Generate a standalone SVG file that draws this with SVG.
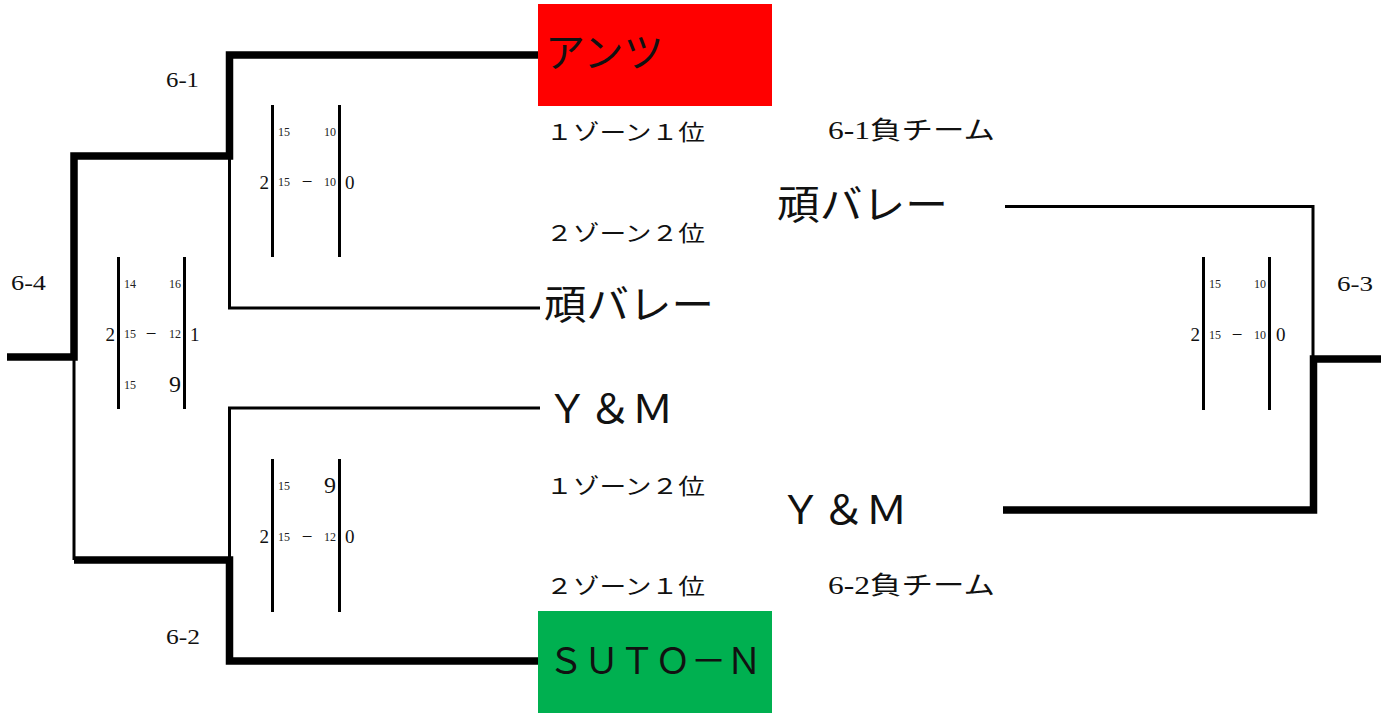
<svg xmlns="http://www.w3.org/2000/svg" width="1384" height="713" viewBox="0 0 1384 713">
<style>
text{font-family:"Liberation Serif","Noto Sans CJK JP",serif;fill:#111;dominant-baseline:central}
.thick{fill:none;stroke:#000;stroke-width:7.5;stroke-linejoin:miter}
.thin{fill:none;stroke:#000;stroke-width:3}
.bar{stroke:#000;stroke-width:3}
.s{font-size:12px;fill:#222}
.b{font-size:19px}
.b9{font-size:24px}
.m{font-size:19px}
.lab{font-size:21px}
.zone{font-size:22px}
.team{font-size:40px}
.loser{font-size:25px}
</style>
<rect width="1384" height="713" fill="#fff"/>
<g id="connectors">
<path class="thick" d="M7,357 H74 V156 H229.5 V55 H538"/>
<path class="thick" d="M74,560 H229.5 V661 H538"/>
<path class="thick" d="M1003,510 H1313.5 V359 H1381"/>
<path class="thin" d="M229.5,158 V308 H540"/>
<path class="thin" d="M74,357 V560"/>
<path class="thin" d="M229.5,560 V408 H540"/>
<path class="thin" d="M1005,206.5 H1313 V359"/>
</g>
<g id="team-ants">
<rect x="538" y="4" width="234" height="102" fill="#ff0000"/>
<text class="team" x="545" y="53">アンツ</text>
</g>
<g id="team-ganbare">
<text class="team" x="544" y="305" textLength="170" lengthAdjust="spacingAndGlyphs">頑バレー</text>
</g>
<g id="team-ym">
<text class="team" x="546" y="409" textLength="128" lengthAdjust="spacingAndGlyphs">Ｙ＆Ｍ</text>
</g>
<g id="team-suton">
<rect x="538" y="611" width="234" height="102" fill="#00b050"/>
<text class="team" x="548" y="662" style="font-size:36px" textLength="214" lengthAdjust="spacingAndGlyphs">ＳＵＴＯ－Ｎ</text>
</g>
<g id="final-ganbare">
<text class="team" x="777" y="205" textLength="171" lengthAdjust="spacingAndGlyphs">頑バレー</text>
</g>
<g id="final-ym">
<text class="team" x="779" y="510" textLength="129" lengthAdjust="spacingAndGlyphs">Ｙ＆Ｍ</text>
</g>
<g id="zone-labels">
<text class="zone" x="546" y="132" textLength="159" lengthAdjust="spacingAndGlyphs">１ゾーン１位</text>
<text class="zone" x="546" y="233" textLength="159" lengthAdjust="spacingAndGlyphs">２ゾーン２位</text>
<text class="zone" x="546" y="486" textLength="159" lengthAdjust="spacingAndGlyphs">１ゾーン２位</text>
<text class="zone" x="546" y="586" textLength="159" lengthAdjust="spacingAndGlyphs">２ゾーン１位</text>
<text class="loser" x="828" y="130" textLength="167" lengthAdjust="spacingAndGlyphs">6-1負チーム</text>
<text class="loser" x="828" y="585" textLength="167" lengthAdjust="spacingAndGlyphs">6-2負チーム</text>
</g>
<g id="match-labels">
<text class="lab" x="166" y="80" textLength="33" lengthAdjust="spacingAndGlyphs">6-1</text>
<text class="lab" x="166" y="637" textLength="34" lengthAdjust="spacingAndGlyphs">6-2</text>
<text class="lab" x="11" y="283" textLength="35" lengthAdjust="spacingAndGlyphs">6-4</text>
<text class="lab" x="1337" y="284" textLength="36" lengthAdjust="spacingAndGlyphs">6-3</text>
</g>
<g id="score-6-4">
<line class="bar" x1="118.5" y1="257" x2="118.5" y2="409"/>
<line class="bar" x1="184.5" y1="257" x2="184.5" y2="409"/>
<text class="s" x="124" y="284">14</text>
<text class="s" x="181" y="284" text-anchor="end">16</text>
<text class="b" x="115" y="334" text-anchor="end">2</text>
<text class="s" x="124" y="334">15</text>
<text class="m" x="151" y="333" text-anchor="middle">−</text>
<text class="s" x="181" y="334" text-anchor="end">12</text>
<text class="b" x="190" y="334">1</text>
<text class="s" x="124" y="385">15</text>
<text class="b9" x="181" y="384" text-anchor="end">9</text>
</g>
<g id="score-6-1">
<line class="bar" x1="272.5" y1="105" x2="272.5" y2="257"/>
<line class="bar" x1="339.5" y1="105" x2="339.5" y2="257"/>
<text class="s" x="278" y="132">15</text>
<text class="s" x="336" y="132" text-anchor="end">10</text>
<text class="b" x="269" y="182" text-anchor="end">2</text>
<text class="s" x="278" y="182">15</text>
<text class="m" x="307" y="181" text-anchor="middle">−</text>
<text class="s" x="336" y="182" text-anchor="end">10</text>
<text class="b" x="345" y="182">0</text>
</g>
<g id="score-6-2">
<line class="bar" x1="272.5" y1="459" x2="272.5" y2="612"/>
<line class="bar" x1="339.5" y1="459" x2="339.5" y2="612"/>
<text class="s" x="278" y="486">15</text>
<text class="b9" x="336" y="485" text-anchor="end">9</text>
<text class="b" x="269" y="536" text-anchor="end">2</text>
<text class="s" x="278" y="537">15</text>
<text class="m" x="307" y="536" text-anchor="middle">−</text>
<text class="s" x="336" y="537" text-anchor="end">12</text>
<text class="b" x="345" y="536">0</text>
</g>
<g id="score-6-3">
<line class="bar" x1="1203.5" y1="257" x2="1203.5" y2="410"/>
<line class="bar" x1="1269.5" y1="257" x2="1269.5" y2="410"/>
<text class="s" x="1209" y="284">15</text>
<text class="s" x="1266" y="284" text-anchor="end">10</text>
<text class="b" x="1200" y="334" text-anchor="end">2</text>
<text class="s" x="1209" y="335">15</text>
<text class="m" x="1237" y="334" text-anchor="middle">−</text>
<text class="s" x="1266" y="335" text-anchor="end">10</text>
<text class="b" x="1276" y="334">0</text>
</g>
</svg>
